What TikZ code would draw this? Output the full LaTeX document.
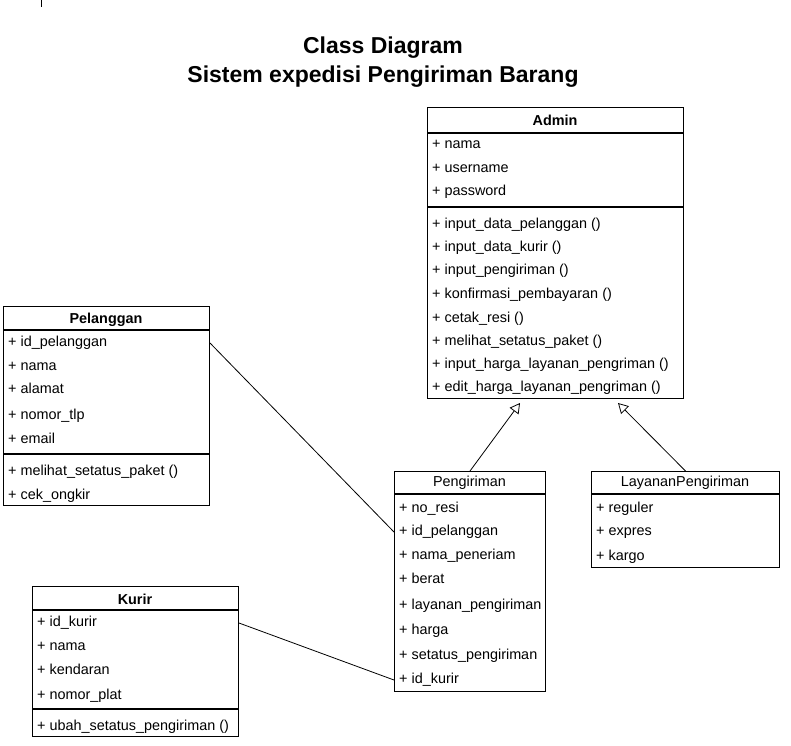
\documentclass[tikz,border=0pt]{standalone}
\usepackage{fontspec}
\setmainfont{Liberation Sans}
\usetikzlibrary{arrows.meta,positioning}

\tikzset{
  cls/.style={draw, line width=1pt, anchor=north west, inner sep=0pt},
  hdr/.style={inner sep=0pt, font=\fontsize{14.4}{16}\selectfont\bfseries},
  hdrplain/.style={inner sep=0pt, font=\fontsize{14.4}{16}\selectfont},
  attr/.style={anchor=west, inner sep=0pt, font=\fontsize{14.4}{16}\selectfont, text height=10pt, text depth=3pt},
  sep/.style={line width=1.6pt},
  inherit/.style={-{Triangle[open,length=10pt,width=11pt]}, line width=0.8pt},
  assoc/.style={line width=0.8pt}
}

\begin{document}
\begin{tikzpicture}[x=1pt,y=-1pt]
		\useasboundingbox (0,0) rectangle (791,745);
		\draw[line width=1pt] (41,0) -- (41,7);
		\node[font=\fontsize{23}{29}\selectfont\bfseries, align=center] (title) at (383,62) {Class Diagram\\Sistem expedisi Pengiriman Barang};

		% Admin
		\node[cls, minimum width=256pt, minimum height=291pt] (admin) at (427,107) {};
		\node[hdr] (adminT) at (555,120) {Admin};
		\draw[sep] (427,133) -- (683,133);
		\draw[sep] (427,207) -- (683,207);
		\foreach \y/\t [count=\i] in {145/nama, 169/username, 192/password}
			\node[attr] (adm-a\i) at (432,\y) {+ \t};
		\foreach \y/\t [count=\i] in {225/{input\_data\_pelanggan ()}, 248/{input\_data\_kurir ()}, 271/{input\_pengiriman ()}, 295/{konfirmasi\_pembayaran ()}, 319/{cetak\_resi ()}, 342/{melihat\_setatus\_paket ()}, 365/{input\_harga\_layanan\_pengriman ()}, 388/{edit\_harga\_layanan\_pengriman ()}}
			\node[attr] (adm-m\i) at (432,\y) {+ \t};

		% Pelanggan
		\node[cls, minimum width=206pt, minimum height=199pt] (pel) at (3,306) {};
		\node[hdr] (pelT) at (106,320) {Pelanggan};
		\draw[sep] (3,330) -- (209,330);
		\draw[sep] (3,454) -- (209,454);
		\foreach \y/\t [count=\i] in {343/{id\_pelanggan}, 367/nama, 390/alamat, 416/{nomor\_tlp}, 440/email}
			\node[attr] (pel-a\i) at (8,\y) {+ \t};
		\foreach \y/\t [count=\i] in {472/{melihat\_setatus\_paket ()}, 496/{cek\_ongkir}}
			\node[attr] (pel-m\i) at (8,\y) {+ \t};

		% Pengiriman
		\node[cls, minimum width=151pt, minimum height=220pt] (pgr) at (394,471) {};
		\node[hdrplain] (pgrT) at (469.5,483) {Pengiriman};
		\draw[sep] (394,494) -- (545,494);
		\foreach \y/\t [count=\i] in {509/{no\_resi}, 532/{id\_pelanggan}, 556/{nama\_peneriam}, 580/berat, 606/{layanan\_pengiriman}, 631/harga, 656/{setatus\_pengiriman}, 680/{id\_kurir}}
			\node[attr] (pgr-a\i) at (399,\y) {+ \t};

		% LayananPengiriman
		\node[cls, minimum width=188pt, minimum height=96pt] (lay) at (591,471) {};
		\node[hdrplain] (layT) at (685,483) {LayananPengiriman};
		\draw[sep] (591,494) -- (779,494);
		\foreach \y/\t [count=\i] in {509/reguler, 532/expres, 557/kargo}
			\node[attr] (lay-a\i) at (596,\y) {+ \t};

		% Kurir
		\node[cls, minimum width=206pt, minimum height=150pt] (kur) at (32,586) {};
		\node[hdr] (kurT) at (135,599) {Kurir};
		\draw[sep] (32,610) -- (238,610);
		\draw[sep] (32,709) -- (238,709);
		\foreach \y/\t [count=\i] in {623/{id\_kurir}, 647/nama, 671/kendaran, 696/{nomor\_plat}}
			\node[attr] (kur-a\i) at (37,\y) {+ \t};
		\node[attr] (kur-m1) at (37,727) {+ ubah\_setatus\_pengiriman ()};

		% relations
		\coordinate (admTipA) at (520,403);
		\coordinate (admTipB) at (618,403);
		\draw[inherit] (pgr.north) -- (admTipA);
		\draw[inherit] (lay.north) -- (admTipB);
		\draw[assoc] (pel.east |- pel-a1) -- (pgr.west |- pgr-a2);
		\draw[assoc] (kur.east |- kur-a1) -- (pgr.west |- pgr-a8);
	\end{tikzpicture}
\end{document}
